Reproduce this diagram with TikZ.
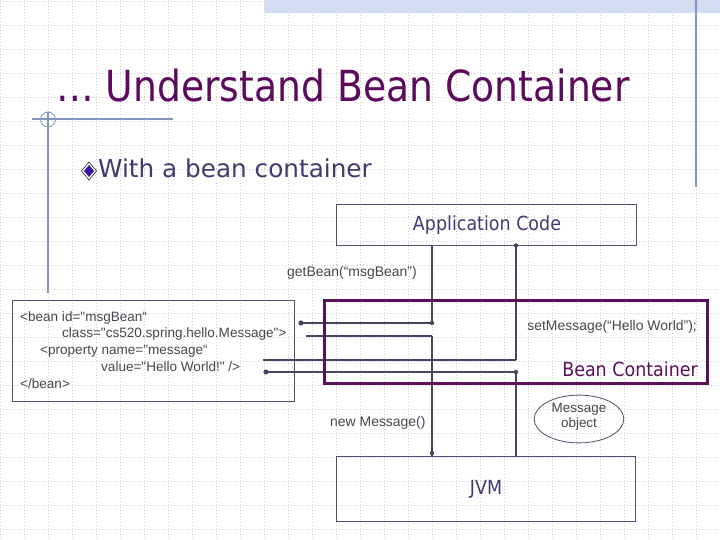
\documentclass[tikz,border=0pt]{standalone}
\usepackage{fontspec}
\setmainfont{Liberation Sans}[Ligatures=TeXOff]
\newfontfamily\titlefont[FakeStretch=0.88]{DejaVu Sans}
\newfontfamily\subfont{DejaVu Sans}
\newfontfamily\labfont[FakeStretch=0.9]{DejaVu Sans}
\usetikzlibrary{shapes.geometric}
\definecolor{ttlcol}{HTML}{5C0A5C}
\definecolor{subcol}{HTML}{3C3C70}
\definecolor{boxcol}{HTML}{50506A}
\definecolor{conncol}{HTML}{46465F}
\definecolor{contcol}{HTML}{5A1058}
\definecolor{txtcol}{HTML}{46464E}
\definecolor{decocol}{HTML}{8296C2}
\definecolor{gridcol}{HTML}{CFCFD4}
\definecolor{bandcol}{HTML}{D3DCF0}
\definecolor{bulletcol}{HTML}{3A12A8}
\tikzset{
  gridline/.style={gridcol, line width=0.8bp, dash pattern=on 1bp off 2bp},
  deco/.style={decocol, line width=1.2bp},
  boxnode/.style={draw=boxcol, line width=1.1bp, inner sep=0pt, rectangle},
  conn/.style={conncol, line width=2.2bp},
  thinconn/.style={conncol, line width=1.2bp},
  dotend/.style={fill=conncol},
  smalltxt/.style={text=txtcol, inner sep=0pt, font=\fontsize{14}{16}\selectfont},
  xmltxt/.style={text=txtcol, inner sep=0pt, anchor=base west, font=\fontsize{13.6}{16}\selectfont},
  labtxt/.style={inner sep=0pt, font=\labfont\fontsize{19.5}{22}\selectfont},
}
\begin{document}
\begin{tikzpicture}[x=1bp,y=-1bp]
\useasboundingbox (0,0) rectangle (720,540);
\fill[white] (0,0) rectangle (720,540);
% background grid
\foreach \i in {0,24,...,720} \draw[gridline] (\i,0) -- (\i,540);
\foreach \j in {1,25,...,540} \draw[gridline] (0,\j) -- (720,\j);
% slide decoration
\fill[bandcol] (264,0) rectangle (720,13);
\draw[deco] (696,0) -- (696,187);
\draw[deco] (32,119) -- (173,119);
\draw[deco] (48,112) -- (48,293);
\draw[decocol, line width=0.8bp] (48,119.5) circle (7.5);
% title
\node[anchor=base west, inner sep=0pt, text=ttlcol, font=\titlefont\fontsize{43}{48}\selectfont] (title) at (56,102) {… Understand Bean Container};
% bullet
\draw[black, line width=0.5bp, fill=white] (89,162) -- (96.5,171) -- (89,180) -- (81.5,171) -- cycle;
\fill[bulletcol] (89,165) -- (94,171) -- (89,177) -- (84,171) -- cycle;
\node[anchor=base west, inner sep=0pt, text=subcol, font=\subfont\fontsize{24.8}{28}\selectfont] (sub) at (98,178) {With a bean container};
% boxes
\node[boxnode, minimum width=301, minimum height=42] (app) at (486.5,225) {};
\node[labtxt, text=subcol] (applab) at (487,225) {Application Code};
\node[boxnode, minimum width=283, minimum height=102] (bean) at (153.5,351) {};
\node[boxnode, minimum width=300, minimum height=66] (jvm) at (486,489) {};
\node[labtxt, text=subcol] (jvmlab) at (486,489) {JVM};
\node[draw=boxcol, line width=0.8bp, ellipse, minimum width=90, minimum height=48, inner sep=0pt] (msgobj) at (579,419) {};
\node[smalltxt, align=center, font=\fontsize{13.5}{15.5}\selectfont] (msgobjlab) at (579,417) {Message\\object};
% xml text
\node[xmltxt] (x1) at (20,321) {<bean id="msgBean“};
\node[xmltxt] (x2) at (62,337.5) {class="cs520.spring.hello.Message">};
\node[xmltxt] (x3) at (40,354.5) {<property name="message“};
\node[xmltxt] (x4) at (101,371.5) {value="Hello World!" />};
\node[xmltxt] (x5) at (20,388.5) {</bean>};
% call labels
\node[smalltxt, anchor=base west] (getlab) at (287,277) {getBean(“msgBean”)};
\node[smalltxt, anchor=base east] (setlab) at (697,330.5) {setMessage(“Hello World”);};
\node[smalltxt, anchor=base west] (newlab) at (330,426) {new Message()};
% connector coordinates
\coordinate (ca) at (432,0);
\coordinate (cb) at (516,0);
\coordinate (getend) at (301,323);
\coordinate (clsend) at (306,336);
\coordinate (valend) at (263,360);
\coordinate (propend) at (266,372);
% connectors
\draw[conn] (app.south -| ca) |- (getend);
\draw[thinconn] (clsend) -- (clsend -| ca);
\draw[conn] (clsend -| ca) -- (jvm.north -| ca);
\draw[conn] (app.south -| cb) -- (valend -| cb);
\draw[thinconn] (valend -| cb) -- (valend);
\draw[conn] (jvm.north -| cb) |- (propend);
\fill[dotend] (getend) circle (2.6);
\fill[dotend] (getend -| ca) circle (2.2);
\fill[dotend] ([yshift=1bp]app.south -| cb) circle (2.2);
\fill[dotend] ([yshift=2.5bp]jvm.north -| ca) circle (2.2);
\fill[dotend] (propend -| cb) circle (2.2);
\fill[dotend] (propend) circle (2.6);
% bean container
\node[draw=contcol, line width=3bp, rectangle, minimum width=384, minimum height=84, inner sep=0pt] (cont) at (516,342) {};
\node[labtxt, text=contcol, anchor=base east] (contlab) at (698,376.5) {Bean Container};
\end{tikzpicture}
\end{document}
